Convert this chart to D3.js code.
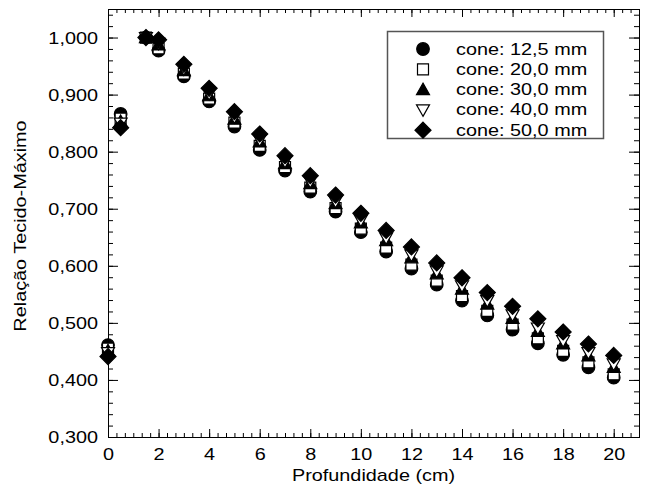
<!DOCTYPE html>
<html>
<head>
<meta charset="utf-8">
<script src="https://cdn.jsdelivr.net/npm/d3@7"></script>
<style>
  body { margin: 0; background: #fff; }
  svg { display: block; }
  text { font-family: "Liberation Sans", Arial, sans-serif; fill: #000; }
</style>
</head>
<body>
<div id="chart"></div>
<script>
// profundidade (cm)
var depths = [0, 0.5, 1.5, 2, 3, 4, 5, 6, 7, 8, 9, 10, 11, 12, 13, 14, 15, 16, 17, 18, 19, 20];

// relação tecido-máximo por cone
var cone125 = [0.461, 0.866, 1.000, 0.977, 0.932, 0.888, 0.844, 0.803, 0.767, 0.730, 0.695, 0.659, 0.625, 0.595, 0.567, 0.539, 0.513, 0.488, 0.464, 0.444, 0.422, 0.404];
var cone200 = [0.455, 0.858, 1.000, 0.981, 0.937, 0.893, 0.851, 0.810, 0.773, 0.737, 0.701, 0.665, 0.632, 0.602, 0.574, 0.547, 0.521, 0.497, 0.473, 0.451, 0.431, 0.410];
var cone300 = [0.451, 0.853, 1.000, 0.987, 0.942, 0.898, 0.857, 0.817, 0.779, 0.744, 0.709, 0.675, 0.644, 0.614, 0.586, 0.559, 0.533, 0.508, 0.485, 0.463, 0.442, 0.422];
var cone400 = [0.448, 0.850, 1.000, 0.990, 0.945, 0.902, 0.861, 0.821, 0.783, 0.748, 0.713, 0.680, 0.649, 0.619, 0.591, 0.565, 0.539, 0.514, 0.491, 0.469, 0.448, 0.428];
var cone500 = [0.441, 0.842, 1.000, 0.996, 0.953, 0.911, 0.870, 0.831, 0.793, 0.758, 0.724, 0.692, 0.662, 0.633, 0.605, 0.579, 0.553, 0.529, 0.507, 0.484, 0.463, 0.443];

var seriesNames = ["cone: 12,5 mm", "cone: 20,0 mm", "cone: 30,0 mm", "cone: 40,0 mm", "cone: 50,0 mm"];
var seriesValues = [cone125, cone200, cone300, cone400, cone500];
var seriesShapes = ["circle", "square", "triangle", "triangleDown", "diamond"];

var xTicks = [0, 2, 4, 6, 8, 10, 12, 14, 16, 18, 20];
var yTicks = [0.3, 0.4, 0.5, 0.6, 0.7, 0.8, 0.9, 1.0];

var W = 651, H = 495;
var pLeft = 108, pRight = 639, pTop = 9, pBottom = 437;
var fs = "16px", sx = 1.24; // fonte larga

var svg = d3.select("#chart").append("svg")
    .attr("width", W)
    .attr("height", H);

var x = d3.scaleLinear().domain([0, 21]).range([pLeft, pRight]);
var y = d3.scaleLinear().domain([0.3, 1.05]).range([pBottom, pTop]);

function fmtY(v) { return d3.format(".3f")(v).replace(".", ","); }

var xMinor = d3.range(0, 21.01, 2 / 6);
var yMinor = d3.range(0.3, 1.0501, 0.02);

// ticks menores (para dentro)
svg.append("g").attr("transform", "translate(0," + pBottom + ")")
    .call(d3.axisBottom(x).tickValues(xMinor).tickSize(-4).tickFormat(""));
svg.append("g").attr("transform", "translate(0," + pTop + ")")
    .call(d3.axisTop(x).tickValues(xMinor).tickSize(-4).tickFormat(""));
svg.append("g").attr("transform", "translate(" + pLeft + ",0)")
    .call(d3.axisLeft(y).tickValues(yMinor).tickSize(-5).tickFormat(""));
svg.append("g").attr("transform", "translate(" + pRight + ",0)")
    .call(d3.axisRight(y).tickValues(yMinor).tickSize(-5).tickFormat(""));

// ticks maiores
var gx = svg.append("g").attr("transform", "translate(0," + pBottom + ")")
    .call(d3.axisBottom(x).tickValues(xTicks).tickSize(-8).tickFormat(d3.format("d")));
svg.append("g").attr("transform", "translate(0," + pTop + ")")
    .call(d3.axisTop(x).tickValues(xTicks).tickSize(-8).tickFormat(""));
var gy = svg.append("g").attr("transform", "translate(" + pLeft + ",0)")
    .call(d3.axisLeft(y).tickValues(yTicks).tickSize(-10).tickFormat(fmtY));
svg.append("g").attr("transform", "translate(" + pRight + ",0)")
    .call(d3.axisRight(y).tickValues(yTicks).tickSize(-10).tickFormat(""));

svg.selectAll(".domain").remove();
svg.selectAll(".tick line").attr("stroke", "#000").attr("stroke-width", 1);

gx.selectAll("text")
    .attr("y", 0).attr("dy", 0)
    .attr("transform", "translate(0,23) scale(" + sx + ",1)")
    .style("font-size", fs);
gy.selectAll("text")
    .attr("x", 0).attr("dy", "0.35em")
    .attr("transform", "translate(-10,0) scale(" + sx + ",1)")
    .style("font-size", fs);

// moldura
svg.append("rect")
    .attr("x", pLeft + 0.5).attr("y", pTop + 0.5)
    .attr("width", pRight - pLeft).attr("height", pBottom - pTop)
    .attr("fill", "none").attr("stroke", "#000").attr("stroke-width", 1);

// títulos
svg.append("text")
    .attr("transform", "translate(" + ((pLeft + pRight) / 2) + ",481) scale(" + sx + ",1)")
    .attr("text-anchor", "middle")
    .style("font-size", fs)
    .text("Profundidade (cm)");

svg.append("text")
    .attr("transform", "translate(26," + ((pTop + pBottom) / 2 + 3) + ") rotate(-90) scale(" + sx + ",1)")
    .attr("text-anchor", "middle")
    .style("font-size", fs)
    .text("Relação Tecido-Máximo");

// marcadores
function shapePath(s) {
    if (s == "circle") return d3.symbol().type(d3.symbolCircle).size(Math.PI * 6.3 * 6.3)();
    if (s == "square") return "M-5.5,-5.5L5.5,-5.5L5.5,5.5L-5.5,5.5Z";
    if (s == "triangle") return "M0,-6.5L6.5,5L-6.5,5Z";
    if (s == "triangleDown") return "M0,6.5L6.5,-5L-6.5,-5Z";
    return "M0,-8L8,0L0,8L-8,0Z";
}
function shapeFill(s) {
    return (s == "square" || s == "triangleDown") ? "#fff" : "#000";
}

var plot = svg.append("g");
seriesValues.forEach(function(vals, k) {
    var s = seriesShapes[k];
    plot.selectAll(".s" + k)
        .data(depths.map(function(d, i) { return {d: d, v: vals[i]}; }))
        .enter().append("path")
        .attr("class", "s" + k)
        .attr("d", shapePath(s))
        .attr("transform", function(p) { return "translate(" + x(p.d) + "," + y(p.v) + ")"; })
        .attr("fill", shapeFill(s))
        .attr("stroke", "#000")
        .attr("stroke-width", 1.2);
});

// legenda
var leg = svg.append("g");
leg.append("rect")
    .attr("x", 387.5).attr("y", 31.5)
    .attr("width", 216).attr("height", 107)
    .attr("fill", "#fff").attr("stroke", "#555").attr("stroke-width", 1.5);

seriesNames.forEach(function(name, k) {
    var yy = 49 + k * 20.3;
    var s = seriesShapes[k];
    leg.append("path")
        .attr("d", shapePath(s))
        .attr("transform", "translate(423," + yy + ")")
        .attr("fill", shapeFill(s))
        .attr("stroke", "#000")
        .attr("stroke-width", 1.2);
    leg.append("text")
        .attr("transform", "translate(456," + (yy + 5.5) + ") scale(" + sx + ",1)")
        .style("font-size", fs)
        .text(name);
});
</script>
</body>
</html>
